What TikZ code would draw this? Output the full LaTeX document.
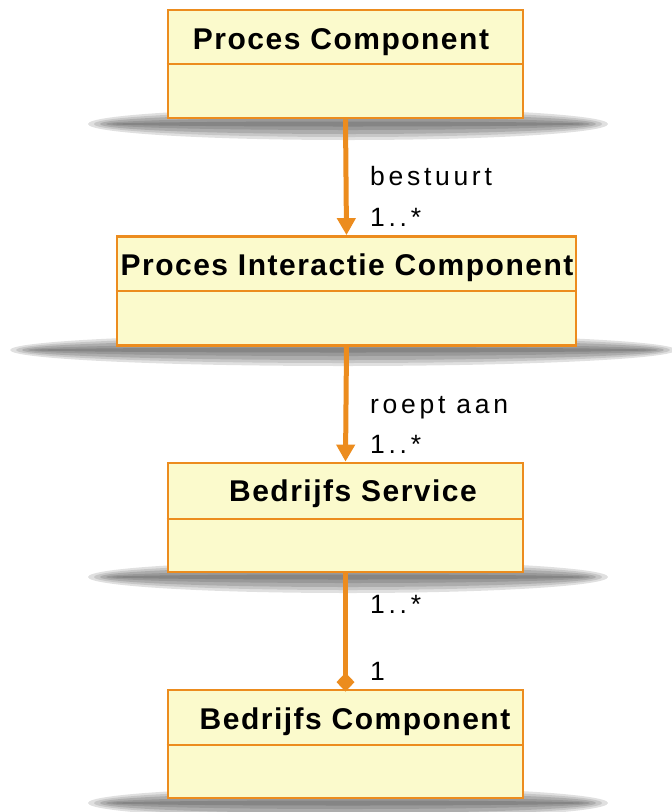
\documentclass[tikz,border=0pt]{standalone}
\usepackage{fontspec}
\setmainfont{Liberation Sans}
\newfontfamily\titlefont[LetterSpace=5]{Liberation Sans}
\newfontfamily\labelfont[LetterSpace=14]{Liberation Sans}
\usetikzlibrary{arrows.meta}
\definecolor{umlorange}{RGB}{236,140,30}
\definecolor{umlfill}{RGB}{251,250,204}
\tikzset{
  umlbox/.style={draw=umlorange, fill=umlfill, line width=2.8pt, rectangle, inner sep=0pt},
  divider/.style={draw=umlorange, line width=2.8pt},
  titletext/.style={font=\titlefont\bfseries\fontsize{30}{36}\selectfont, anchor=base, inner sep=0pt},
  assoclabel/.style={font=\labelfont\fontsize{26.5}{32}\selectfont, anchor=base west, inner sep=0pt},
  conn/.style={draw=umlorange, line width=5pt},
  tri/.style={-{Triangle[length=17pt,width=18pt]}},
  dia/.style={-{Diamond[length=19pt,width=18pt]}},
}
\newcommand{\umlshadow}[3]{% cx, cy, rx
  \fill[black!12] (#1,#2) ellipse ({#3} and 16);
  \fill[black!22] (#1,#2) ellipse ({#3-6} and 13);
  \fill[black!32] (#1,#2) ellipse ({#3-12} and 10);
  \fill[black!40] (#1,#2) ellipse ({#3-18} and 6);
  \fill[black!48] (#1,#2) ellipse ({#3-24} and 2.5);
}
\begin{document}
\begin{tikzpicture}[x=1pt,y=-1pt]
\useasboundingbox (0,0) rectangle (672,812);
% shadows
\umlshadow{348}{124}{260}
\umlshadow{343}{350}{333}
\umlshadow{348}{577}{260}
\umlshadow{348}{803}{260}
% boxes
\node[umlbox, minimum width=355pt, minimum height=108pt] (pc) at (345.5,64) {};
\draw[divider] (pc.west |- 0,64) -- (pc.east |- 0,64);
\node[titletext] (pct) at (341,49) {Proces Component};

\node[umlbox, minimum width=459pt, minimum height=109pt] (pic) at (346.5,291) {};
\draw[divider] (pic.west |- 0,291) -- (pic.east |- 0,291);
\node[titletext] (pict) at (347,275) {Proces Interactie Component};

\node[umlbox, minimum width=355pt, minimum height=109pt] (bs) at (345.5,517.5) {};
\draw[divider] (bs.west |- 0,519) -- (bs.east |- 0,519);
\node[titletext] (bst) at (353,501) {Bedrijfs Service};

\node[umlbox, minimum width=355pt, minimum height=108pt] (bc) at (345.5,744) {};
\draw[divider] (bc.west |- 0,745) -- (bc.east |- 0,745);
\node[titletext] (bct) at (355,729) {Bedrijfs Component};

% connectors
\draw[conn, tri] (pc.south) -- (pic.north);
\draw[conn, tri] (pic.south) -- (bs.north);
\draw[conn, dia] (bs.south) -- ([yshift=-3pt]bc.north);

% labels
\node[assoclabel] (l1) at (370,185) {bestuurt};
\node[assoclabel] (l2) at (370,226) {1..*};
\node[assoclabel] (l3) at (370,413) {roept aan};
\node[assoclabel] (l4) at (370,453) {1..*};
\node[assoclabel] (l5) at (370,613) {1..*};
\node[assoclabel] (l6) at (370,680) {1};
\end{tikzpicture}
\end{document}
